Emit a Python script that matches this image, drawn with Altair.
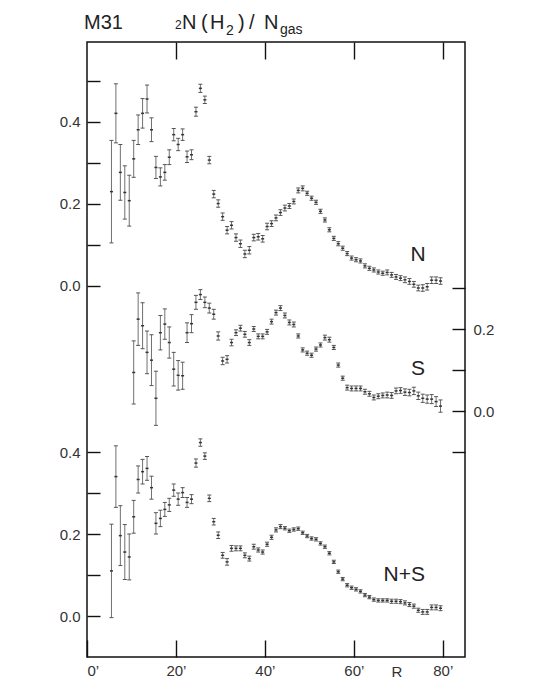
import altair as alt
import pandas as pd

# ---------------- data ----------------
R_N = [5.5, 6.5, 7.5, 8.5, 9.5, 10.5, 11.5, 12.5, 13.5, 14.5,
       15.5, 16.5, 17.5, 18.5, 19.5, 20.5, 21.5, 22.5, 23.5, 24.5,
       25.5, 26.5, 27.5, 28.5, 29.5, 30.5, 31.5, 32.5, 33.5, 34.5,
       35.5, 36.5, 37.5, 38.5, 39.5, 40.5, 41.5, 42.5, 43.5, 44.5,
       45.5, 46.5, 47.5, 48.5, 49.5, 50.5, 51.5, 52.5, 53.5, 54.5,
       55.5, 56.5, 57.5, 58.5, 59.5, 60.5, 61.5, 62.5, 63.5, 64.5,
       65.5, 66.5, 67.5, 68.5, 69.5, 70.5, 71.5, 72.5, 73.5, 74.5,
       75.5, 76.5, 77.5, 78.5, 79.5]

N_VAL = [0.230, 0.421, 0.277, 0.228, 0.208, 0.310, 0.381, 0.421, 0.456, 0.381,
         0.289, 0.266, 0.277, 0.314, 0.369, 0.345, 0.369, 0.315, 0.320, 0.425,
         0.482, 0.454, 0.307, 0.224, 0.201, 0.169, 0.136, 0.148, 0.118, 0.103,
         0.078, 0.087, 0.118, 0.120, 0.115, 0.145, 0.152, 0.166, 0.179, 0.190,
         0.195, 0.206, 0.233, 0.238, 0.226, 0.214, 0.204, 0.182, 0.161, 0.137,
         0.116, 0.103, 0.092, 0.079, 0.068, 0.064, 0.061, 0.049, 0.043, 0.039,
         0.034, 0.031, 0.033, 0.027, 0.022, 0.019, 0.015, 0.011, 0.004, -0.005,
         -0.005, -0.002, 0.014, 0.014, 0.012]
N_ERR = [0.125, 0.072, 0.068, 0.065, 0.062, 0.045, 0.036, 0.036, 0.034, 0.029,
         0.027, 0.022, 0.019, 0.018, 0.015, 0.015, 0.014, 0.014, 0.012, 0.011,
         0.010, 0.009, 0.009, 0.009, 0.009, 0.009, 0.009, 0.009, 0.009, 0.009,
         0.009, 0.009, 0.008, 0.008, 0.008, 0.008, 0.007, 0.007, 0.007, 0.007,
         0.006, 0.006, 0.006, 0.006, 0.005, 0.005, 0.005, 0.005, 0.005, 0.005,
         0.005, 0.005, 0.005, 0.005, 0.005, 0.005, 0.005, 0.005, 0.005, 0.005,
         0.005, 0.005, 0.006, 0.006, 0.006, 0.006, 0.007, 0.007, 0.007, 0.007,
         0.008, 0.008, 0.008, 0.008, 0.008]

R_S = R_N[5:]
S_VAL = [0.094, 0.224, 0.208, 0.143, 0.124, 0.031, 0.191, 0.212, 0.167, 0.102,
         0.087, 0.086, 0.191, 0.213, 0.265, 0.284, 0.265, 0.251, 0.236, 0.183,
         0.122, 0.126, 0.167, 0.191, 0.202, 0.187, 0.167, 0.200, 0.182, 0.182,
         0.193, 0.218, 0.240, 0.251, 0.233, 0.216, 0.211, 0.183, 0.149, 0.141,
         0.136, 0.151, 0.161, 0.179, 0.174, 0.155, 0.112, 0.080, 0.057, 0.055,
         0.055, 0.055, 0.047, 0.042, 0.033, 0.036, 0.038, 0.039, 0.038, 0.049,
         0.050, 0.046, 0.045, 0.049, 0.037, 0.031, 0.029, 0.029, 0.023, 0.012]
S_ERR = [0.077, 0.064, 0.056, 0.052, 0.062, 0.066, 0.042, 0.037, 0.038, 0.041,
         0.036, 0.033, 0.024, 0.022, 0.017, 0.012, 0.013, 0.012, 0.012, 0.010,
         0.009, 0.009, 0.008, 0.007, 0.007, 0.007, 0.007, 0.006, 0.006, 0.006,
         0.006, 0.006, 0.006, 0.006, 0.006, 0.006, 0.006, 0.005, 0.005, 0.005,
         0.005, 0.005, 0.005, 0.006, 0.006, 0.005, 0.005, 0.005, 0.006, 0.006,
         0.006, 0.006, 0.006, 0.006, 0.006, 0.006, 0.006, 0.007, 0.007, 0.007,
         0.007, 0.008, 0.008, 0.009, 0.009, 0.010, 0.010, 0.011, 0.012, 0.015]

R_NS = R_N
NS_VAL = [0.110, 0.340, 0.196, 0.156, 0.144, 0.242, 0.333, 0.352, 0.360, 0.313,
          0.226, 0.238, 0.260, 0.271, 0.307, 0.285, 0.301, 0.277, 0.285, 0.373,
          0.423, 0.390, 0.287, 0.230, 0.197, 0.148, 0.132, 0.165, 0.165, 0.165,
          0.148, 0.140, 0.169, 0.161, 0.156, 0.175, 0.192, 0.210, 0.218, 0.214,
          0.208, 0.211, 0.213, 0.203, 0.195, 0.189, 0.187, 0.177, 0.169, 0.153,
          0.132, 0.108, 0.090, 0.075, 0.069, 0.065, 0.060, 0.051, 0.046, 0.040,
          0.038, 0.038, 0.038, 0.036, 0.036, 0.035, 0.032, 0.028, 0.024, 0.014,
          0.010, 0.010, 0.021, 0.021, 0.019]
NS_ERR = [0.114, 0.075, 0.073, 0.067, 0.056, 0.040, 0.033, 0.030, 0.029, 0.028,
          0.026, 0.020, 0.017, 0.016, 0.015, 0.015, 0.012, 0.012, 0.011, 0.010,
          0.009, 0.008, 0.008, 0.008, 0.008, 0.007, 0.008, 0.007, 0.006, 0.006,
          0.006, 0.006, 0.006, 0.005, 0.005, 0.005, 0.005, 0.005, 0.005, 0.004,
          0.004, 0.004, 0.004, 0.004, 0.004, 0.004, 0.004, 0.004, 0.004, 0.004,
          0.004, 0.004, 0.004, 0.004, 0.004, 0.004, 0.004, 0.004, 0.004, 0.004,
          0.004, 0.004, 0.004, 0.005, 0.005, 0.005, 0.005, 0.005, 0.005, 0.005,
          0.006, 0.006, 0.006, 0.006, 0.006]

# vertical offsets of the three stacked panels in one shared frame
OFFSET = {"N": 0.905, "S": 0.6, "N+S": 0.1}

X_TICKS = [0, 20, 40, 60, 80]
TOP_TICKS = [20, 40, 60, 80]
LEFT_TICKS_N = [0.0, 0.1, 0.2, 0.3, 0.4, 0.5]
LEFT_TICKS_NS = [0.0, 0.1, 0.2, 0.3, 0.4]
RIGHT_TICKS_S = [-0.1, 0.0, 0.1, 0.2, 0.3]
LABELLED = [0.0, 0.2, 0.4]

# ---------------- build table ----------------
rows = []
for name, rr, vv, ee in (("N", R_N, N_VAL, N_ERR),
                         ("S", R_S, S_VAL, S_ERR),
                         ("N+S", R_NS, NS_VAL, NS_ERR)):
    for r, v, e in zip(rr, vv, ee):
        g = v + OFFSET[name]
        rows.append({"R": r, "g": g, "lo": g - e, "hi": g + e, "panel": name})
df = pd.DataFrame(rows)


def tick_list(vals, off):
    return [round(v + off, 4) for v in vals]


def label_expr(pairs):
    expr = "''"
    for gv, lab in reversed(pairs):
        expr = f"abs(datum.value - {gv}) < 0.001 ? '{lab}' : ({expr})"
    return expr


left_vals = tick_list(LEFT_TICKS_NS, OFFSET["N+S"]) + tick_list(LEFT_TICKS_N, OFFSET["N"])
left_pairs = [(round(v + OFFSET["N+S"], 4), f"{v:.1f}") for v in LABELLED] + \
             [(round(v + OFFSET["N"], 4), f"{v:.1f}") for v in LABELLED]
right_vals = tick_list(RIGHT_TICKS_S, OFFSET["S"])
right_pairs = [(round(v + OFFSET["S"], 4), f"{v:.1f}") for v in [0.0, 0.2]]

FONT = "Liberation Sans"
XS = alt.Scale(domain=[0, 85], nice=False, zero=False)
YS = alt.Scale(domain=[0, 1.5], nice=False, zero=False)

common_axis = dict(domain=False, grid=False, title=None, tickColor="#111",
                   tickWidth=1.4, labelFont=FONT, labelFontSize=15,
                   labelColor="#333")

x_bottom = alt.Axis(orient="bottom", values=X_TICKS, tickSize=17, offset=-17,
                    labelPadding=6, labelExpr="datum.value + '\u2019'",
                    **common_axis)
y_left = alt.Axis(orient="left", values=left_vals, tickSize=13, offset=-13,
                  labelPadding=7, labelExpr=label_expr(left_pairs), **common_axis)
x_top = alt.Axis(orient="top", values=TOP_TICKS, tickSize=17, offset=-17,
                 labels=False, **common_axis)
y_right = alt.Axis(orient="right", values=right_vals, tickSize=13, offset=-13,
                   labelPadding=8, labelExpr=label_expr(right_pairs), **common_axis)

base = alt.Chart(df)

bars = base.mark_rule(color="#707070", strokeWidth=1).encode(
    x=alt.X("R:Q", scale=XS, axis=x_bottom),
    y=alt.Y("lo:Q", scale=YS, axis=y_left),
    y2="hi:Q",
)
cap_lo = base.mark_rule(color="#555", strokeWidth=1, xOffset=-2, x2Offset=2).encode(
    x=alt.X("R:Q", scale=XS, axis=None), x2="R:Q",
    y=alt.Y("lo:Q", scale=YS, axis=None),
)
cap_hi = base.mark_rule(color="#555", strokeWidth=1, xOffset=-2, x2Offset=2).encode(
    x=alt.X("R:Q", scale=XS, axis=None), x2="R:Q",
    y=alt.Y("hi:Q", scale=YS, axis=None),
)
centers = base.mark_rule(color="#333", strokeWidth=1.5, xOffset=-1.5, x2Offset=1.5).encode(
    x=alt.X("R:Q", scale=XS, axis=x_top), x2="R:Q",
    y=alt.Y("g:Q", scale=YS, axis=y_right),
)


def txt(s, x, y, size, align="left", baseline="alphabetic", color="#222"):
    return alt.Chart(pd.DataFrame({"t": [s]})).mark_text(
        font=FONT, fontSize=size, align=align, baseline=baseline, color=color
    ).encode(text="t:N", x=alt.value(x), y=alt.value(y))


# plot area origin is at page (87, 42)
texts = [
    txt("M31", -3, -13, 20),
    txt("2", 88, -13, 12),
    txt("N", 95, -13, 20),
    txt("(", 114, -13, 20),
    txt("H", 123, -13, 20),
    txt("2", 139, -7, 14),
    txt(")", 151, -13, 20),
    txt("/", 162, -13, 20),
    txt("N", 177, -13, 20),
    txt("gas", 193, -8, 14),
    txt("N", 331, 213, 21, align="center", baseline="middle"),
    txt("S", 331, 327, 21, align="center", baseline="middle"),
    txt("N+S", 338, 533, 21, align="right", baseline="middle"),
    txt("R", 310, 630, 15, align="center", baseline="middle", color="#333"),
]

chart = alt.layer(bars, cap_lo, cap_hi, centers, *texts).resolve_axis(
    x="independent", y="independent"
).properties(
    width=378, height=615,
    autosize=alt.AutoSizeParams(type="none"),
    padding={"left": 79, "top": 34, "right": 60, "bottom": 30},
    background="white",
).configure_view(stroke="#111", strokeWidth=1.5)

chart.save("out.html", embed_options={"renderer": "svg", "actions": False})
